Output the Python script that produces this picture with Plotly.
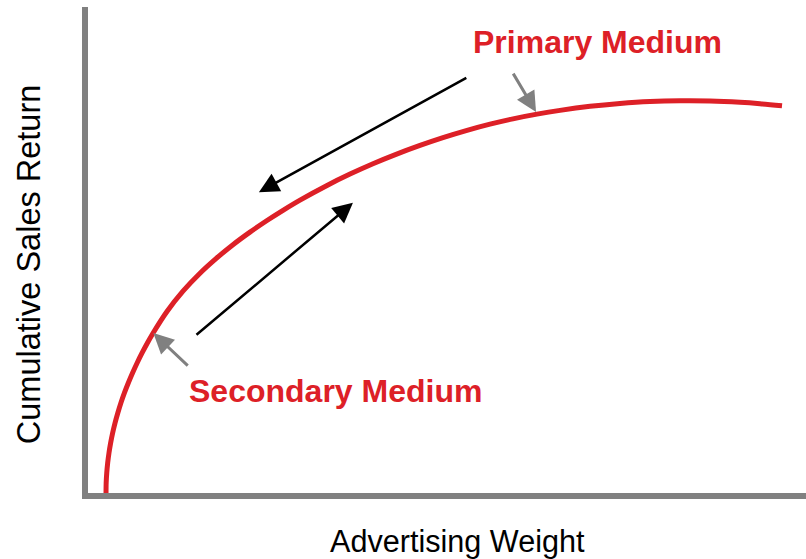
import plotly.graph_objects as go

# Curve data (Advertising weight vs cumulative sales return)
weight = [2.51, 2.53, 2.61, 2.74, 2.92, 3.15, 3.43, 3.76, 4.15, 4.58, 5.07, 5.61,
          6.20, 6.84, 7.53, 8.27, 9.07, 11.00, 13.23, 15.60, 17.83, 20.19, 22.56,
          24.93, 27.16, 29.53, 33.29, 36.49, 39.69, 42.90, 46.24, 49.44, 52.79,
          55.99, 59.19, 62.53, 65.74, 69.92, 74.09, 78.27, 82.45, 86.63, 90.81,
          93.59, 96.66]
sales_return = [0.0, 2.06, 4.12, 6.17, 8.23, 10.29, 12.35, 14.40, 16.46, 18.52,
                20.58, 22.63, 24.69, 26.75, 28.81, 30.86, 32.92, 37.35, 41.54, 45.23,
                48.23, 51.09, 53.68, 56.07, 58.17, 60.27, 63.29, 65.62, 67.75, 69.68,
                71.51, 73.12, 74.62, 75.89, 76.99, 77.95, 78.73, 79.56, 80.15, 80.55,
                80.71, 80.67, 80.40, 80.10, 79.67]

# Arrows: tips, tails and kind
arrow_tip_x = [23.8, 36.9, 62.4, 9.1]
arrow_tip_y = [61.9, 59.7, 78.4, 32.9]
arrow_tail_x = [52.9, 14.9, 59.1, 14.1]
arrow_tail_y = [85.6, 32.3, 86.6, 25.9]
arrow_kind = ["main", "main", "pointer", "pointer"]

labels = ["Primary Medium", "Secondary Medium"]
label_x = [70.9, 34.5]
label_y = [92.7, 21.0]

RED = "#DD2027"
GRAY = "#808080"
FONT = "Arial, Liberation Sans, sans-serif"

fig = go.Figure()
fig.add_trace(go.Scatter(x=weight, y=sales_return, mode="lines",
                         line=dict(color=RED, width=5, shape="spline", smoothing=0.8),
                         hoverinfo="skip", showlegend=False))

annotations = []
for tx, ty, ax, ay, kind in zip(arrow_tip_x, arrow_tip_y, arrow_tail_x, arrow_tail_y, arrow_kind):
    if kind == "main":
        style = dict(arrowcolor="black", arrowwidth=2.5, arrowsize=1.6, arrowhead=2)
    else:
        style = dict(arrowcolor=GRAY, arrowwidth=3, arrowsize=1.35, arrowhead=2)
    annotations.append(dict(x=tx, y=ty, ax=ax, ay=ay, xref="x", yref="y",
                            axref="x", ayref="y", text="", showarrow=True,
                            standoff=0, startstandoff=0, **style))

for t, x, y in zip(labels, label_x, label_y):
    annotations.append(dict(x=x, y=y, xref="x", yref="y", text="<b>%s</b>" % t,
                            showarrow=False, xanchor="center", yanchor="middle",
                            font=dict(family=FONT, size=32, color=RED)))

annotations.append(dict(x=0.515, y=-0.099, xref="paper", yref="paper",
                        text="Advertising Weight", showarrow=False,
                        xanchor="center", yanchor="middle",
                        font=dict(family=FONT, size=30.6, color="black")))
annotations.append(dict(x=-0.082, y=0.469, xref="paper", yref="paper",
                        text="Cumulative Sales Return", showarrow=False, textangle=-90,
                        xanchor="center", yanchor="middle",
                        font=dict(family=FONT, size=32.5, color="black")))

fig.update_layout(
    width=806, height=559,
    margin=dict(l=88, r=0, t=7, b=66),
    paper_bgcolor="white", plot_bgcolor="white",
    xaxis=dict(range=[0, 100], showgrid=False, zeroline=False, showticklabels=False,
               ticks="", showline=True, linecolor=GRAY, linewidth=5.5, fixedrange=True),
    yaxis=dict(range=[0, 100], showgrid=False, zeroline=False, showticklabels=False,
               ticks="", showline=True, linecolor=GRAY, linewidth=5.5, fixedrange=True),
    annotations=annotations,
    showlegend=False,
)

fig.write_html("out.html")
